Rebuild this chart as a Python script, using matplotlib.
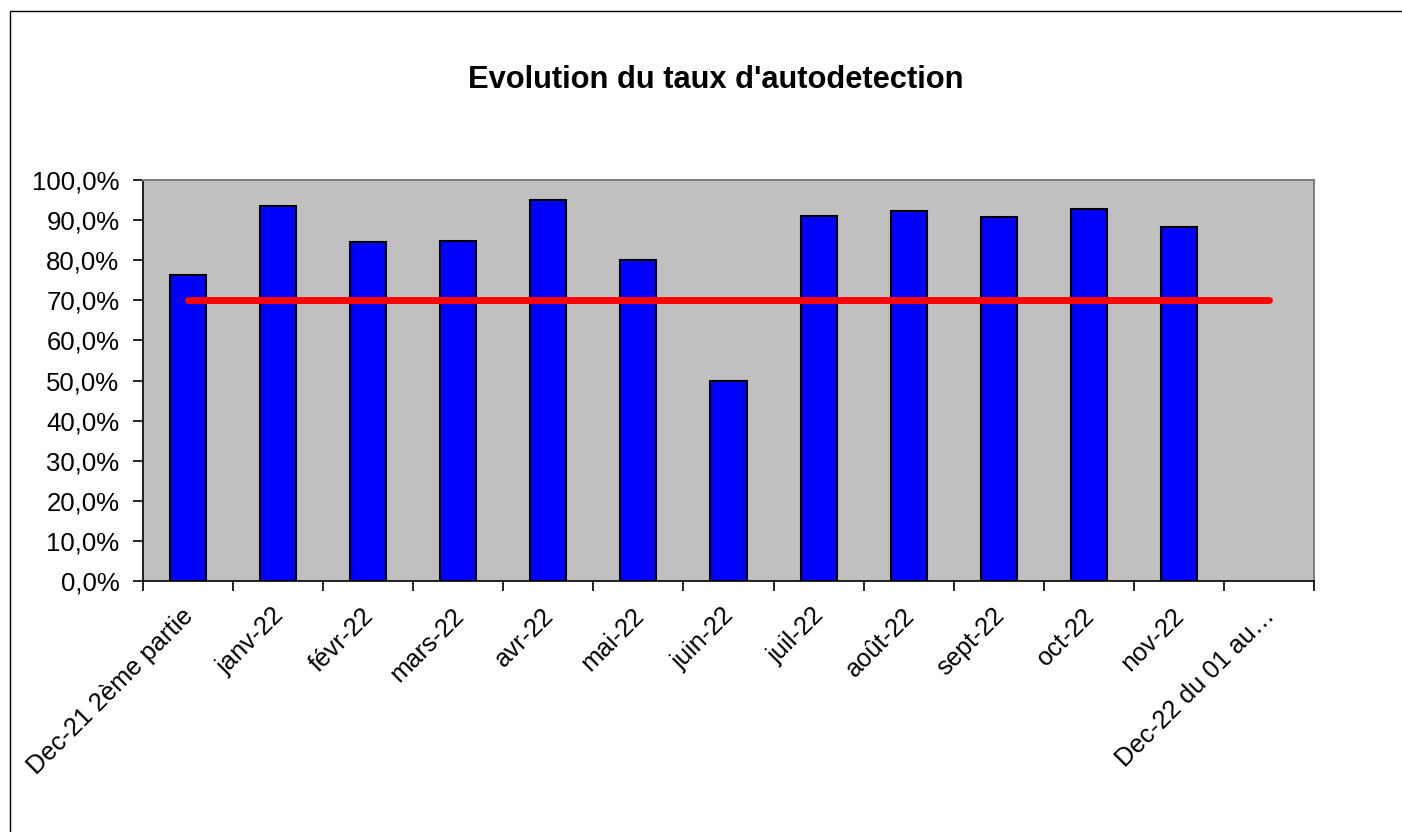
import numpy as np
import matplotlib
matplotlib.use("Agg")
import matplotlib.pyplot as plt
from matplotlib.patches import Rectangle
from matplotlib.ticker import FuncFormatter, MultipleLocator

plt.rcParams["font.family"] = ["Liberation Sans", "DejaVu Sans"]

categories = [
    "Dec-21 2ème partie", "janv-22", "févr-22", "mars-22", "avr-22", "mai-22",
    "juin-22", "juil-22", "août-22", "sept-22", "oct-22", "nov-22",
    "Dec-22 du 01 au…",
]
taux = [76.3, 93.5, 84.5, 84.8, 95.0, 80.0, 49.9, 91.0, 92.3, 90.8, 92.8, 88.3, np.nan]
objectif = [70.0] * 13

fig = plt.figure(figsize=(14.02, 8.32), dpi=100)
ax = fig.add_axes([143 / 1402, 1 - 581 / 832, (1314 - 143) / 1402, (581 - 180) / 832])

# outer chart border (clipped at right/bottom like the original)
fig.patches.append(Rectangle((10 / 1402, -0.05), 1.2, 1 - 11 / 832 + 0.05,
                             transform=fig.transFigure, fill=False,
                             edgecolor="black", linewidth=1.0))

x = np.arange(len(categories))
ax.set_facecolor("#C0C0C0")
ax.bar(x, taux, width=0.4, color="#0000FF", edgecolor="black", linewidth=1.5, zorder=2)
ax.plot(x, objectif, color="#FF0000", linewidth=5, solid_capstyle="round", zorder=3)

ax.set_xlim(-0.5, len(categories) - 0.5)
ax.set_ylim(0, 100)
ax.yaxis.set_major_locator(MultipleLocator(10))
ax.yaxis.set_major_formatter(FuncFormatter(lambda v, p: f"{v:.1f}".replace(".", ",") + "%"))

ax.set_xticks(x)
ax.set_xticklabels(categories, rotation=45, ha="right", va="center_baseline",
                   rotation_mode="anchor")
ax.set_xticks(np.arange(-0.5, len(categories)), minor=True)
ax.tick_params(axis="x", which="major", length=0, pad=21, labelsize=18.3)
ax.tick_params(axis="x", which="minor", length=7, width=1.2, direction="out")
ax.tick_params(axis="y", length=7, width=1.2, direction="out", labelsize=18.5, pad=10)

for side in ["top", "right"]:
    ax.spines[side].set_color("#808080")
    ax.spines[side].set_linewidth(1.5)
for side in ["left", "bottom"]:
    ax.spines[side].set_color("black")
    ax.spines[side].set_linewidth(1.2)

fig.text(0.5 + (716 - 701) / 1402, 1 - 80 / 832, "Evolution du taux d'autodetection",
         ha="center", va="center", fontsize=22.2, fontweight="bold")

fig.savefig("out.png", dpi=100)
